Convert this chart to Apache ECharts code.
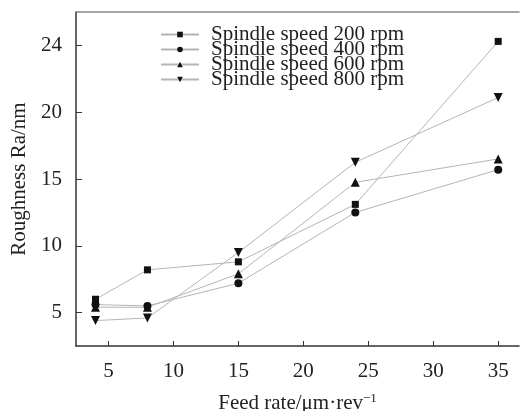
<!DOCTYPE html>
<html>
<head>
<meta charset="utf-8">
<script src="https://cdn.jsdelivr.net/npm/echarts@6/dist/echarts.min.js"></script>
<style>
  html, body { margin: 0; padding: 0; background: #fff; }
  #chart { width: 521px; height: 411px; }
</style>
</head>
<body>
<div id="chart"></div>
<script>
// 数据
const feedRates = [4, 8, 15, 24, 35];
const speed200 = [6.0, 8.2, 8.8, 13.1, 25.3];
const speed400 = [5.6, 5.5, 7.2, 12.5, 15.7];
const speed600 = [5.4, 5.4, 7.9, 14.75, 16.5];
const speed800 = [4.4, 4.6, 9.5, 16.25, 21.1];
const seriesNames = [
  "Spindle speed 200 rpm",
  "Spindle speed 400 rpm",
  "Spindle speed 600 rpm",
  "Spindle speed 800 rpm",
];
const xTickValues = [5, 10, 15, 20, 25, 30, 35];
const yTickValues = [5, 10, 15, 20, 25];
const yTickLabels = ["5", "10", "15", "20", "24"];

const font = "Liberation Serif";
const lineColor = "#b5b5b5";
const markColor = "#111";

const myChart = echarts.init(document.getElementById("chart"));

const makeSeries = (name, values, symbol, size, rotate) => ({
  name,
  type: "line",
  data: feedRates.map((x, i) => [x, values[i]]),
  symbol,
  symbolSize: size,
  symbolRotate: rotate,
  lineStyle: { color: lineColor, width: 1 },
  itemStyle: { color: markColor },
  emphasis: { disabled: true },
  z: 3,
});

const options = {
  animation: false,
  textStyle: { fontFamily: font },
  grid: { left: 76, right: 2, top: 12, bottom: 65, outerBoundsMode: "none" },
  legend: {
    orient: "vertical",
    left: 155,
    top: 19,
    itemWidth: 38,
    itemHeight: 7,
    itemGap: -6,
    textStyle: {
      fontFamily: font,
      fontSize: 21,
      color: "#222",
      padding: [0, 0, 0, 7],
    },
    data: seriesNames,
  },
  xAxis: [
    {
      type: "value",
      min: 2.5,
      max: 36.6,
      name: "Feed rate/μm·rev{sup|−1}",
      nameLocation: "middle",
      nameGap: 46,
      nameTextStyle: {
        fontFamily: font,
        fontSize: 21,
        color: "#222",
        rich: { sup: { fontFamily: font, fontSize: 13, color: "#222", verticalAlign: "top", padding: [0, 0, 10, 0] } },
      },
      axisLine: { show: true, lineStyle: { color: "#333", width: 1.5 } },
      axisTick: { show: true, inside: true, length: 5, customValues: xTickValues, lineStyle: { color: "#333" } },
      axisLabel: { customValues: xTickValues, fontFamily: font, fontSize: 21, color: "#222", margin: 15 },
      splitLine: { show: false },
    },
    {
      type: "value",
      position: "top",
      min: 2.5,
      max: 36.6,
      axisLine: { show: true, lineStyle: { color: "#888", width: 1.5 } },
      axisTick: { show: false },
      axisLabel: { show: false },
      splitLine: { show: false },
    },
  ],
  yAxis: {
    type: "value",
    min: 2.5,
    max: 27.5,
    name: "Roughness Ra/nm",
    nameLocation: "middle",
    nameRotate: 90,
    nameGap: 45,
    nameTextStyle: { fontFamily: font, fontSize: 21, color: "#222" },
    axisLine: { show: true, lineStyle: { color: "#333", width: 1.5 } },
    axisTick: { show: true, inside: true, length: 6, customValues: yTickValues, lineStyle: { color: "#333" } },
    axisLabel: {
      customValues: yTickValues,
      fontFamily: font,
      fontSize: 21,
      color: "#222",
      margin: 14,
      formatter: (v) => yTickLabels[yTickValues.indexOf(v)] ?? "",
    },
    splitLine: { show: false },
  },
  series: [
    makeSeries(seriesNames[0], speed200, "rect", 7, 0),
    makeSeries(seriesNames[1], speed400, "circle", 8, 0),
    makeSeries(seriesNames[2], speed600, "triangle", 9, 0),
    makeSeries(seriesNames[3], speed800, "triangle", 9, 180),
  ],
};

myChart.setOption(options);
</script>
</body>
</html>
